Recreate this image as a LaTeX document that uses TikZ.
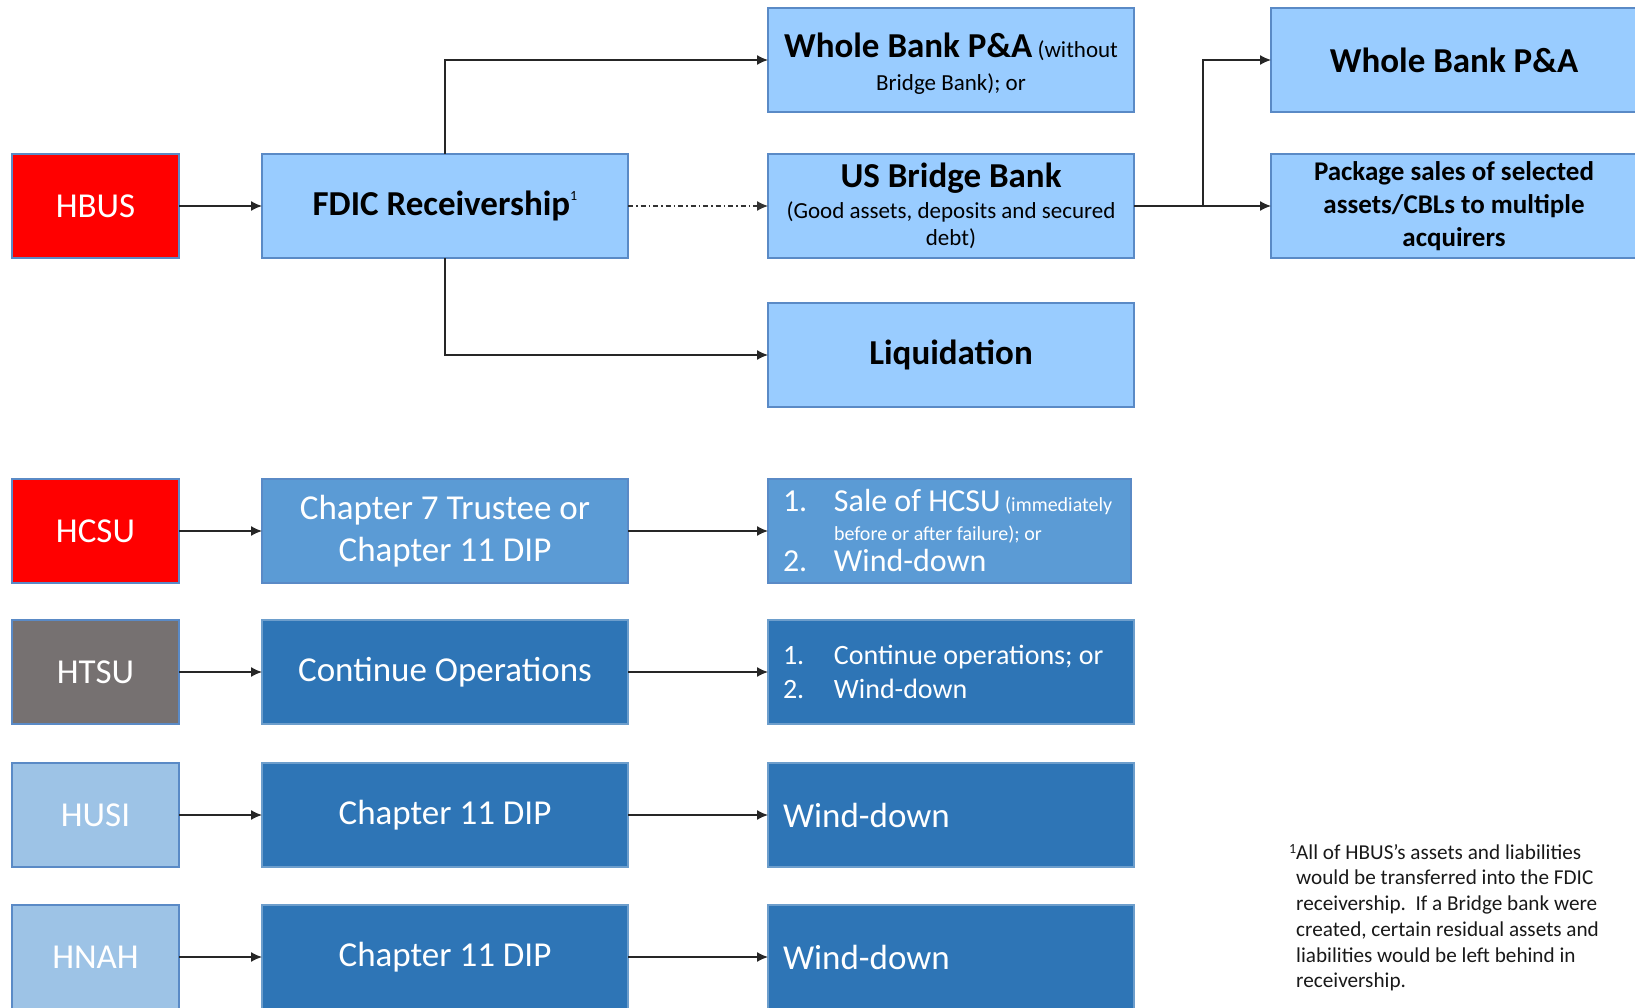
\documentclass[tikz,border=0pt]{standalone}
\usepackage{fontspec}
\setmainfont{Carlito}
\usetikzlibrary{arrows.meta}
\definecolor{lightbox}{HTML}{99CCFF}
\definecolor{bordercol}{HTML}{5A8AC6}
\definecolor{redbox}{HTML}{FF0000}
\definecolor{midblue}{HTML}{5B9BD5}
\definecolor{darkblue}{HTML}{2E75B6}
\definecolor{graybox}{HTML}{767171}
\definecolor{paleblue}{HTML}{9DC3E6}
\newcommand{\fs}[2]{\fontsize{#1}{#2}\selectfont}
\newcommand{\itemno}[1]{\makebox[51pt][l]{#1}}
\tikzset{
  box/.style={rectangle, draw=bordercol, line width=1.2pt, anchor=north west, minimum height=104, inner sep=0pt, outer sep=0pt},
  smallbox/.style={box, minimum width=167},
  widebox/.style={box, minimum width=366},
  lightnode/.style={widebox, fill=lightbox, text=black, align=center},
  entity/.style={smallbox, text=white, font=\fs{35}{40}},
  darknode/.style={widebox, fill=darkblue, draw=darkblue!70!white, text=white},
  arr/.style={line width=1.3pt, draw=black!85, -{Latex[length=11pt,width=10pt]}},
  dasharr/.style={line width=1.3pt, draw=black!80, dash pattern=on 5pt off 3pt on 1.5pt off 3pt, -{Latex[length=11pt,width=10pt]}},
  txt/.style={inner sep=0pt, outer sep=0pt},
}
\begin{document}
\begin{tikzpicture}[x=1pt,y=-1pt]
\useasboundingbox (0,0) rectangle (1635,1008);
\clip (0,0) rectangle (1635,1008);

% Top section
\node[entity, fill=redbox] (hbus) at (12,154) {HBUS};
\node[lightnode, font=\fs{35}{40}\bfseries] (fdic) at (262,154) {FDIC Receivership\raisebox{15pt}{\fs{14}{14}\mdseries 1}};
\node[lightnode] (wb) at (768,8) {};
\node[txt, align=center, font=\fs{23}{33}] (wbtext) at ([yshift=-4pt]wb.center) {{\fs{35}{40}\textbf{Whole Bank P\&A}} (without\\Bridge Bank); or};
\node[lightnode, font=\fs{23}{27}] (bridge) at (768,154) {{\fs{35}{40}\textbf{US Bridge Bank}}\\[4pt](Good assets, deposits and secured\\debt)};
\node[lightnode, font=\fs{35}{40}\bfseries] (liq) at (768,303) {Liquidation};
\node[lightnode, font=\fs{35}{40}\bfseries] (wb2) at (1271,8) {Whole Bank P\&A};
\node[lightnode, font=\fs{27}{33}\bfseries] (pkg) at (1271,154) {Package sales of selected\\assets/CBLs to multiple\\acquirers};

\coordinate (split) at (1203,206);
\draw[arr] (hbus.east) -- (fdic.west);
\draw[arr] (fdic.north) |- (wb.west);
\draw[arr] (fdic.south) |- (liq.west);
\draw[dasharr] (fdic.east) -- (bridge.west);
\draw[line width=1.3pt, draw=black!85] (bridge.east) -- (split);
\draw[arr] (split) |- (wb2.west);
\draw[arr] (split) -- (pkg.west);

% HCSU row
\node[entity, fill=redbox] (hcsu) at (12,479) {HCSU};
\node[widebox, fill=midblue, text=white, align=center, font=\fs{35}{42}] (ch7) at (262,479) {Chapter 7 Trustee or\\Chapter 11 DIP};
\node[box, minimum width=363, fill=midblue, text=white, text width=333, inner xsep=15pt, align=flush left, font=\fs{20}{29}] (sale) at (768,479) {%
  \mbox{{\fs{32}{36}\itemno{1.}Sale of HCSU} (immediately}\\
  \mbox{\hspace*{51pt}before or after failure); or}\\[2pt]
  \mbox{\fs{32}{36}\itemno{2.}Wind-down}};
\draw[arr] (hcsu.east) -- (ch7.west);
\draw[arr] (ch7.east) -- (sale.west);

% HTSU row
\node[entity, fill=graybox] (htsu) at (12,620) {HTSU};
\node[darknode, align=center, font=\fs{35}{40}] (cont) at (262,620) {Continue Operations};
\node[darknode, text width=336, inner xsep=15pt, align=flush left, font=\fs{28}{33.5}] (contops) at (768,620) {%
  \itemno{1.}Continue operations; or\\
  \itemno{2.}Wind-down};
\draw[arr] (htsu.east) -- (cont.west);
\draw[arr] (cont.east) -- (contops.west);

% HUSI row
\node[entity, fill=paleblue] (husi) at (12,763) {HUSI};
\node[darknode, align=center, font=\fs{35}{40}] (ch11a) at (262,763) {Chapter 11 DIP};
\node[darknode, text width=336, inner xsep=15pt, align=flush left, font=\fs{35}{40}] (wda) at (768,763) {Wind-down};
\draw[arr] (husi.east) -- (ch11a.west);
\draw[arr] (ch11a.east) -- (wda.west);

% HNAH row
\node[entity, fill=paleblue] (hnah) at (12,905) {HNAH};
\node[darknode, align=center, font=\fs{35}{40}] (ch11b) at (262,905) {Chapter 11 DIP};
\node[darknode, text width=336, inner xsep=15pt, align=flush left, font=\fs{35}{40}] (wdb) at (768,905) {Wind-down};
\draw[arr] (hnah.east) -- (ch11b.west);
\draw[arr] (ch11b.east) -- (wdb.west);

% Footnote
\node[anchor=north west, inner sep=0pt, align=flush left, text=black!90, font=\fs{21.2}{25.7}] (note) at (1296,844) {%
  \llap{\raisebox{6pt}{\fs{14}{14}1}}All of HBUS’s assets and liabilities\\
  would be transferred into the FDIC\\
  receivership.\ \ If a Bridge bank were\\
  created, certain residual assets and\\
  liabilities would be left behind in\\
  receivership.};
\end{tikzpicture}
\end{document}
